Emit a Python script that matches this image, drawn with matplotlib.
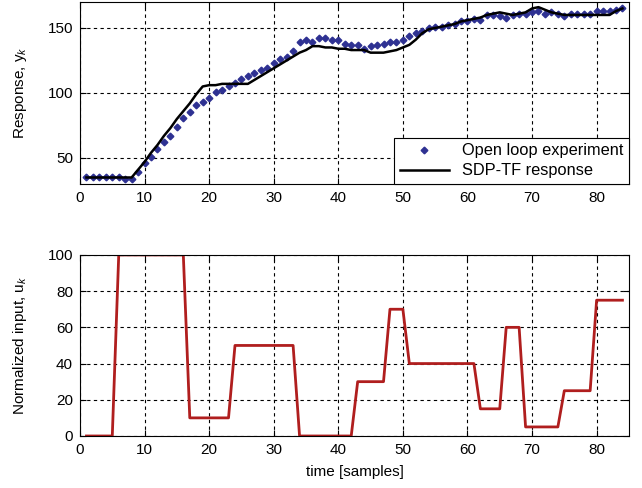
import numpy as np
import matplotlib
matplotlib.use("Agg")
import matplotlib.pyplot as plt

plt.rcParams["font.family"] = ["Liberation Sans", "DejaVu Sans"]
plt.rcParams["mathtext.fontset"] = "custom"
plt.rcParams["mathtext.rm"] = "Liberation Sans"
plt.rcParams["mathtext.it"] = "Liberation Sans:italic"

# sample index
samples = np.arange(1, 85)

# open loop experiment (measured response)
y_meas = [35, 35, 35, 35, 35, 35, 34, 34, 39, 46,
          51, 57, 62, 67, 74, 81, 85, 91, 93, 96,
          101, 102, 105, 108, 111, 113, 115, 118, 119, 123,
          126, 128, 132, 139, 141, 139, 142, 142, 141, 141,
          138, 137, 137, 134, 136, 137, 138, 139, 139, 141,
          144, 146, 148, 150, 151, 151, 152, 153, 155, 155,
          157, 156, 160, 160, 159, 158, 160, 161, 161, 162,
          163, 161, 162, 161, 159, 161, 161, 161, 161, 163,
          163, 163, 164, 165]

# SDP-TF model response
y_model = [35, 35, 35, 35, 35, 35, 35, 35, 41, 47,
           54, 60, 67, 73, 80, 86, 92, 99, 105, 106,
           106, 107, 107, 107, 107, 107, 110, 113, 116, 119,
           122, 125, 128, 131, 133, 136, 136, 135, 135, 134,
           134, 133, 133, 133, 131, 131, 131, 132, 133, 135,
           137, 141, 146, 149, 150, 151, 152, 153, 155, 156,
           157, 158, 160, 161, 162, 161, 160, 161, 162, 165,
           166, 164, 162, 161, 160, 160, 160, 160, 160, 160,
           160, 160, 163, 165]

# normalized input
u_input = [0, 0, 0, 0, 0, 100, 100, 100, 100, 100,
           100, 100, 100, 100, 100, 100, 10, 10, 10, 10,
           10, 10, 10, 50, 50, 50, 50, 50, 50, 50,
           50, 50, 50, 0, 0, 0, 0, 0, 0, 0,
           0, 0, 30, 30, 30, 30, 30, 70, 70, 70,
           40, 40, 40, 40, 40, 40, 40, 40, 40, 40,
           40, 15, 15, 15, 15, 60, 60, 60, 5, 5,
           5, 5, 5, 5, 25, 25, 25, 25, 25, 75,
           75, 75, 75, 75]

fig = plt.figure(figsize=(6.42, 4.88), dpi=100)
ax1 = fig.add_axes([0.1246, 0.623, 0.855, 0.373])
ax2 = fig.add_axes([0.1246, 0.1066, 0.855, 0.371])

grid_kw = dict(color="black", linestyle=(0, (3, 3)), linewidth=0.8)

# Response plot
ax1.plot(samples, y_meas, linestyle="none", marker="D", markersize=3.4,
         color="#2e3192", label="Open loop experiment")
ax1.plot(samples, y_model, color="black", linewidth=1.8, label="SDP-TF response")
ax1.set_xlim(0, 85)
ax1.set_ylim(30, 170)
ax1.set_yticks([50, 100, 150])
ax1.set_xticks(np.arange(0, 81, 10))
ax1.grid(True, **grid_kw)
ax1.set_ylabel("Response, y$_k$", fontsize=11, labelpad=13)
leg = ax1.legend(loc="lower right", fontsize=11.8, fancybox=False,
                 framealpha=1, edgecolor="black", borderaxespad=0,
                 handlelength=3.0, borderpad=0.35, labelspacing=0.3)
leg.get_frame().set_linewidth(0.8)

# Input plot
ax2.plot(samples, u_input, color="#b01e1e", linewidth=2)
ax2.set_xlim(0, 85)
ax2.set_ylim(0, 100)
ax2.set_yticks(np.arange(0, 101, 20))
ax2.set_xticks(np.arange(0, 81, 10))
ax2.grid(True, **grid_kw)
ax2.set_ylabel("Normalized input, u$_k$", fontsize=11, labelpad=13)
ax2.set_xlabel("time [samples]", fontsize=11, labelpad=6)

for ax in (ax1, ax2):
    ax.tick_params(direction="in", labelsize=11, length=4, pad=5,
                   top=True, right=True)
    for s in ax.spines.values():
        s.set_linewidth(0.8)

fig.savefig("out.png", dpi=100)
